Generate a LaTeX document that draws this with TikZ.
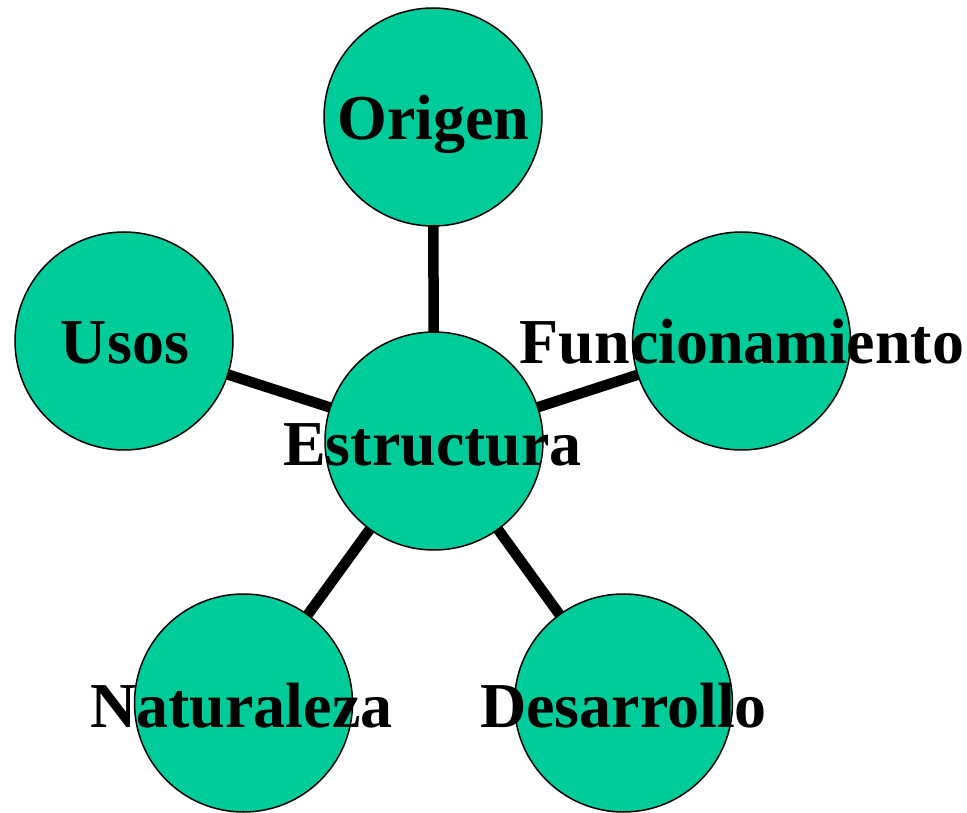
\documentclass[tikz,border=0pt]{standalone}
\usepackage{fontspec}
\setmainfont{Liberation Serif}
\usetikzlibrary{backgrounds}
\definecolor{verde}{RGB}{0,204,153}
\tikzset{
  tema/.style={circle,draw=black,line width=1.5pt,fill=verde,minimum size=218pt,inner sep=0pt},
  rotulo/.style={anchor=base,inner sep=0pt,font=\fontsize{64}{64}\selectfont\bfseries},
  enlace/.style={line width=10.5pt}
}
\begin{document}
\begin{tikzpicture}[x=1pt,y=-1pt]
\useasboundingbox (0,0) rectangle (967,813);

%Shape: Circles
\node[tema] (estructura) at (434,441) {};
\node[tema] (origen) at (433,117) {};
\node[tema] (usos) at (124,341) {};
\node[tema] (funcionamiento) at (741.5,341) {};
\node[tema] (naturaleza) at (243.5,703) {};
\node[tema] (desarrollo) at (623.5,703) {};

%Shape: Lines behind circles
\begin{scope}[on background layer]
\foreach \n in {origen,usos,funcionamiento,naturaleza,desarrollo}
  \draw[enlace] (estructura.center) -- (\n.center);
\end{scope}

% Text Node
\node[rotulo] (t-estructura) at (432.5,465) {Estructura};
% Text Node
\node[rotulo] (t-origen) at (433.5,140) {Origen};
% Text Node
\node[rotulo] (t-usos) at (125,363) {Usos};
% Text Node
\node[rotulo] (t-funcionamiento) at (742,363) {Funcionamiento};
% Text Node
\node[rotulo] (t-naturaleza) at (241.5,727) {Naturaleza};
% Text Node
\node[rotulo] (t-desarrollo) at (623.5,727) {Desarrollo};
\end{tikzpicture}
\end{document}
